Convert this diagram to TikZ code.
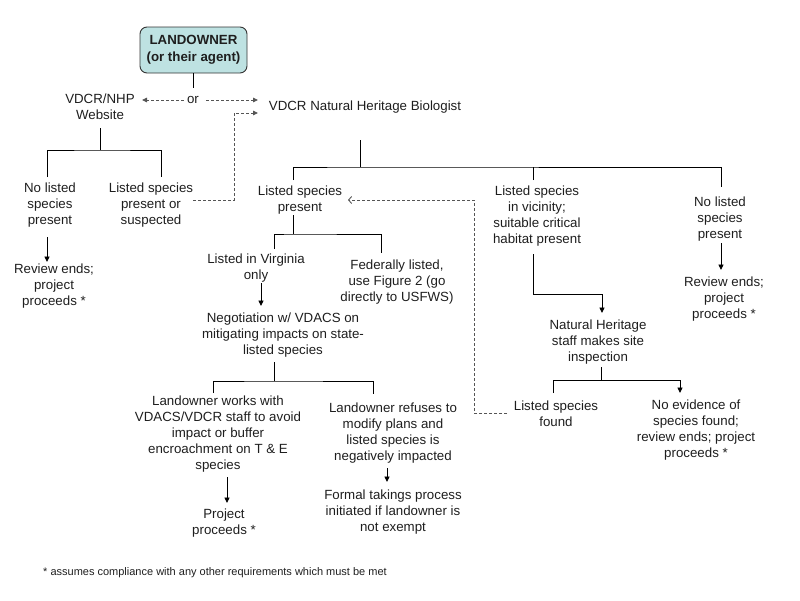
\documentclass[tikz,border=0pt]{standalone}
\usepackage{fontspec}
\setmainfont{Liberation Sans}
\usetikzlibrary{arrows.meta,calc}
\definecolor{boxfill}{RGB}{190,226,226}
\definecolor{txtc}{RGB}{30,30,30}
\definecolor{dashc}{RGB}{85,85,85}
\begin{document}
\begin{tikzpicture}[x=1pt,y=-1pt,
  txt/.style={align=center,inner sep=0pt,text=txtc,font=\fontsize{13.3}{16}\selectfont},
  landbox/.style={draw=black!80,fill=boxfill,rounded corners=7pt,line width=0.9pt,
     minimum width=107pt,minimum height=46pt,align=center,inner sep=0pt,
     font=\fontsize{13.3}{17}\selectfont\bfseries,text=txtc},
  ln/.style={line width=0.9pt,draw=black},
  arr/.style={ln,-{Triangle[length=5.5pt,width=5pt]}},
  dsh/.style={line width=0.9pt,draw=dashc,dash pattern=on 3pt off 2pt},
  darr/.style={dsh,-{Triangle[length=5pt,width=4.5pt]}},
  oarr/.style={dsh,-{Straight Barb[length=3pt,width=7pt]}},
  foot/.style={inner sep=0pt,text=txtc,font=\fontsize{11}{13}\selectfont,anchor=west}]
\useasboundingbox (0,0) rectangle (800,600);

% nodes
\node[landbox] (land) at (193.5,50) {LANDOWNER\\(or their agent)};
\node[txt] (or) at (193,100) {or};
\node[txt] (web) at (100,107) {VDCR/NHP\\Website};
\node[txt] (bio) at (365,107) {VDCR Natural Heritage Biologist};
\node[txt] (nl1) at (50,205) {No listed\\species\\present};
\node[txt] (ls1) at (151,205) {Listed species\\present or\\suspected};
\node[txt] (re1) at (54,286) {Review ends;\\project\\proceeds *};
\node[txt] (lsp) at (300,200) {Listed species\\present};
\node[txt] (vic) at (537,216) {Listed species\\in vicinity;\\suitable critical\\habitat present};
\node[txt] (nl2) at (720,219) {No listed\\species\\present};
\node[txt] (re2) at (724,299) {Review ends;\\project\\proceeds *};
\node[txt] (va) at (256,268.5) {Listed in Virginia\\only};
\node[txt] (fed) at (397,282) {Federally listed,\\use Figure 2 (go\\directly to USFWS)};
\node[txt] (neg) at (283,335.5) {Negotiation w/ VDACS on\\mitigating impacts on state-\\listed species};
\node[txt] (works) at (218,434.5) {Landowner works with\\VDACS/VDCR staff to avoid\\impact or buffer\\encroachment on T \& E\\species};
\node[txt] (pp) at (224,523) {Project\\proceeds *};
\node[txt] (refuse) at (393,433) {Landowner refuses to\\modify plans and\\listed species is\\negatively impacted};
\node[txt] (formal) at (393,512) {Formal takings process\\initiated if landowner is\\not exempt};
\node[txt] (nh) at (598,342) {Natural Heritage\\staff makes site\\inspection};
\node[txt] (lsf) at (556,414) {Listed species\\found};
\node[txt] (noev) at (696,430) {No evidence of\\species found;\\review ends; project\\proceeds *};
\node[foot] (fn) at (43,573) {* assumes compliance with any other requirements which must be met};

% top
\draw[ln] (land.south) -- ++(0,15);
\draw[darr] ($(or.west)+(-3,0)$) -- ($(web)+(42,-7)$);
\draw[darr] ($(or.east)+(7,0)$) -- ($(bio)+(-107,-7)$);
\draw[darr] ($(ls1)+(42,-5)$) -| ($(bio)+(-131,6)$) -- ($(bio)+(-107,6)$);

% website branch
\draw[ln] ($(web)+(0,21)$) -- ($(web)+(0,43)$) coordinate (b1);
\draw[ln] ($(nl1)+(-3,-28)$) |- (b1) -| ($(ls1)+(10,-28)$);
\draw[arr] ($(nl1)+(-3,32)$) -- ($(nl1)+(-3,57)$);

% biologist branch
\draw[ln] ($(bio)+(-5,33)$) -- ($(bio)+(-5,60)$) coordinate (b2);
\draw[ln] ($(lsp)+(-7,-20)$) |- (b2) -| ($(nl2)+(1,-32)$);
\draw[ln] ($(vic)+(-4,-36)$) -- ($(vic)+(-4,-49)$);
\draw[arr] ($(nl2)+(1,24)$) -- ($(nl2)+(1,51)$);

% listed species present branch
\draw[ln] ($(lsp)+(-7,15)$) -- ($(lsp)+(-7,34)$) coordinate (b3);
\draw[ln] ($(va)+(18,-19.5)$) |- (b3) -| ($(fed)+(-16,-29)$);
\draw[arr] ($(va)+(5,14.5)$) -- ($(va)+(5,37.5)$);

% negotiation branch
\draw[ln] ($(neg)+(-9,26.5)$) -- ($(neg)+(-9,45.5)$) coordinate (b4);
\draw[ln] ($(works)+(-5,-41.5)$) |- (b4) -| ($(refuse)+(-20,-39)$);
\draw[arr] ($(works)+(9,42.5)$) -- ($(works)+(9,68.5)$);
\draw[arr] ($(refuse)+(-6,35)$) -- ($(refuse)+(-6,49)$);

% vicinity branch
\draw[arr] ($(vic)+(-4,38)$) |- ($(nh)+(4,-48)$) -- ($(nh)+(4,-29)$);
\draw[ln] ($(nh)+(3,25)$) -- ($(nh)+(3,38)$) coordinate (b5);
\draw[ln] ($(lsf)+(-3,-21)$) |- (b5);
\draw[arr] (b5) -| ($(noev)+(-16,-37)$);

% feedback dashed
\draw[oarr] ($(lsf)+(-49,-1)$) -| ($(lsp)+(174,0)$) -- ($(lsp)+(48,0)$);
\end{tikzpicture}
\end{document}
